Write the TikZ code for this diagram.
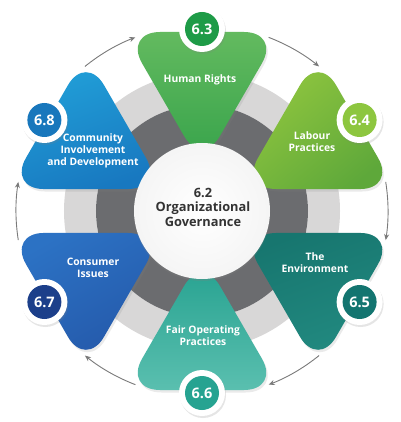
\documentclass[tikz,border=0pt]{standalone}
\usepackage{fontspec}
\setmainfont{Open Sans}
\usetikzlibrary{arrows.meta,shadows}
\definecolor{hrA}{HTML}{63BA5F}
\definecolor{hrB}{HTML}{35A24A}
\definecolor{hrN}{HTML}{1E9B47}
\definecolor{lbA}{HTML}{94C83F}
\definecolor{lbB}{HTML}{5EA83A}
\definecolor{lbN}{HTML}{8DC63F}
\definecolor{evA}{HTML}{17766F}
\definecolor{evB}{HTML}{238C82}
\definecolor{evN}{HTML}{137570}
\definecolor{foA}{HTML}{23A08E}
\definecolor{foB}{HTML}{5ABFAF}
\definecolor{foN}{HTML}{26A391}
\definecolor{csA}{HTML}{2C72C4}
\definecolor{csB}{HTML}{2457A8}
\definecolor{csN}{HTML}{1C3F8A}
\definecolor{cmA}{HTML}{22A3DA}
\definecolor{cmB}{HTML}{1878C0}
\definecolor{cmN}{HTML}{1877BC}
\definecolor{ringL}{HTML}{D8D7D7}
\definecolor{ringD}{HTML}{6B6C6F}
\definecolor{arrG}{HTML}{7A7A7A}
\definecolor{ctrT}{HTML}{333333}
\newcommand\petal[4]{%
  \shade[rotate=#1, top color=#2, bottom color=#3, shading angle=#4,
    rounded corners=36pt,
    drop shadow={opacity=0.16, shadow xshift=1.5pt, shadow yshift=-2.5pt}]
    (0pt,44pt) -- (-78pt,179pt) -- (78pt,179pt) -- cycle;}
\tikzset{
  lbl/.style={text=white, align=center, inner sep=0pt,
    font=\bfseries\fontsize{10.3}{12}\selectfont},
  ctr/.style={text=ctrT, align=center, inner sep=0pt,
    font=\bfseries\fontsize{12.8}{14.5}\selectfont},
  badgew/.style={circle, fill=white, minimum size=46pt, inner sep=0pt,
    drop shadow={opacity=0.2, shadow xshift=1pt, shadow yshift=-2pt}},
  badge/.style={circle, minimum size=34pt, inner sep=0pt, text=white,
    font=\bfseries\fontsize{14.5}{16}\selectfont},
  cyc/.style={draw=arrG, line width=0.9pt, -{Stealth[length=6pt,width=5pt]}}
}
\begin{document}
\begin{tikzpicture}[x=1pt,y=1pt]
\useasboundingbox (-202,-211) rectangle (198,211);
\fill[white] (-202,-211) rectangle (198,211);
% ring
\fill[ringL, even odd rule] (0,0) circle[radius=138pt] (0,0) circle[radius=106pt];
\fill[ringD] (0,0) circle[radius=106pt];
% petals
\petal{0}{hrA}{hrB}{0}
\petal{-60}{lbA}{lbB}{40}
\petal{-120}{evA}{evB}{20}
\petal{-180}{foA}{foB}{0}
\petal{120}{csA}{csB}{30}
\petal{60}{cmA}{cmB}{20}
% centre
\shade[inner color=white, outer color=white!92!gray,
  drop shadow={opacity=0.25, shadow xshift=0pt, shadow yshift=-2pt}]
  (0,0) circle[radius=68pt];
\node[ctr] (gov) at (1,4) {6.2\\Organizational\\Governance};
% labels
\node[lbl] (hr) at (-2,131) {Human Rights};
\node[lbl] (lb) at (110,69) {Labour\\Practices};
\node[lbl] (ev) at (113,-52) {The\\Environment};
\node[lbl] (fo) at (1,-125) {Fair Operating\\Practices};
\node[lbl] (cs) at (-109,-57) {Consumer\\Issues};
\node[lbl] (cm) at (-109,60) {Community\\Involvement\\and Development};
% badges
\node[badgew] (w3) at (90:182pt) {};
\node[badge, fill=hrN] (n3) at (w3) {6.3};
\node[badgew] (w4) at (30:182pt) {};
\node[badge, fill=lbN] (n4) at (w4) {6.4};
\node[badgew] (w5) at (-30:182pt) {};
\node[badge, fill=evN] (n5) at (w5) {6.5};
\node[badgew] (w6) at (-90:182pt) {};
\node[badge, fill=foN] (n6) at (w6) {6.6};
\node[badgew] (w7) at (-150:182pt) {};
\node[badge, fill=csN] (n7) at (w7) {6.7};
\node[badgew] (w8) at (150:182pt) {};
\node[badge, fill=cmN] (n8) at (w8) {6.8};
% cycle arrows
\foreach \a in {60,0,-60,-120,-180,120}{
  \draw[cyc] (\a+9:186pt) arc[start angle=\a+9, end angle=\a-9, radius=186pt];
}
\end{tikzpicture}
\end{document}
